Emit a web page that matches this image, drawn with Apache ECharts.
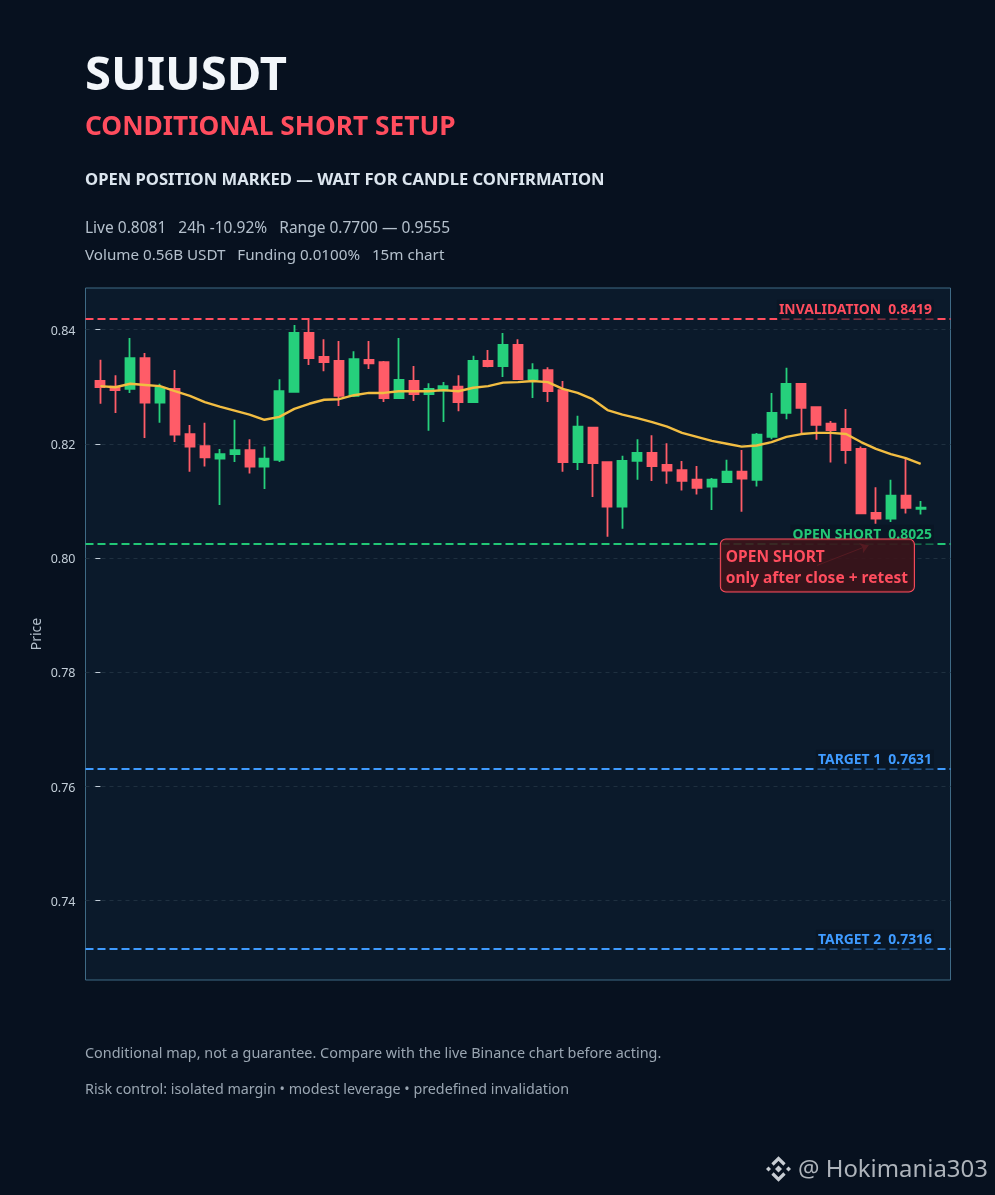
<!DOCTYPE html>
<html><head><meta charset="utf-8">
<style>html,body{margin:0;padding:0;background:#07111f}#c{width:995px;height:1195px}</style>
<script src="https://cdn.jsdelivr.net/npm/echarts@6/dist/echarts.min.js"></script>
</head><body><div id="c"></div>
<script>
const opens  = [.8310,.8300,.8296,.8350,.8272,.8296,.8217,.8196,.8174,.8182,.8189,.8160,.8172,.8291,.8394,.8352,.8345,.8284,.8347,.8343,.8280,.8310,.8287,.8293,.8300,.8273,.8345,.8336,.8373,.8313,.8329,.8294,.8168,.8228,.8168,.8090,.8170,.8184,.8163,.8154,.8137,.8125,.8133,.8151,.8137,.8212,.8254,.8305,.8264,.8235,.8226,.8191,.8079,.8069,.8109,.8086];
const closes = [.8299,.8294,.8350,.8272,.8298,.8216,.8195,.8176,.8182,.8189,.8160,.8174,.8292,.8394,.8350,.8343,.8284,.8348,.8341,.8280,.8312,.8287,.8296,.8301,.8273,.8345,.8336,.8373,.8313,.8329,.8292,.8168,.8230,.8166,.8090,.8170,.8184,.8161,.8153,.8135,.8123,.8137,.8151,.8139,.8216,.8254,.8305,.8263,.8233,.8224,.8189,.8078,.8069,.8109,.8088,.8088];
const lows   = [.8270,.8254,.8289,.8210,.8237,.8203,.8151,.8160,.8093,.8168,.8148,.8121,.8168,.8291,.8338,.8327,.8266,.8282,.8331,.8273,.8280,.8275,.8223,.8238,.8257,.8273,.8334,.8317,.8312,.8280,.8273,.8151,.8154,.8107,.8037,.8051,.8137,.8135,.8130,.8118,.8111,.8084,.8132,.8081,.8125,.8208,.8243,.8217,.8207,.8167,.8165,.8078,.8060,.8063,.8078,.8076];
const highs  = [.8347,.8320,.8385,.8359,.8305,.8329,.8233,.8237,.8191,.8242,.8208,.8195,.8313,.8408,.8417,.8383,.8380,.8362,.8380,.8345,.8385,.8336,.8306,.8308,.8320,.8354,.8364,.8394,.8383,.8341,.8334,.8310,.8249,.8228,.8168,.8179,.8208,.8215,.8201,.8170,.8161,.8140,.8172,.8189,.8219,.8289,.8333,.8305,.8264,.8240,.8261,.8195,.8124,.8137,.8174,.8100];
const ma     = [.8301,.8299,.8305,.8303,.8301,.8292,.8284,.8273,.8265,.8258,.8251,.8242,.8247,.8261,.8270,.8277,.8278,.8285,.8289,.8289,.8292,.8292,.8292,.8294,.8292,.8298,.8301,.8307,.8308,.8310,.8308,.8296,.8289,.8278,.8259,.8251,.8245,.8238,.8230,.8219,.8212,.8205,.8200,.8195,.8197,.8203,.8212,.8217,.8219,.8219,.8217,.8203,.8191,.8182,.8175,.8165];
const yTicks = [0.74,0.76,0.78,0.80,0.82,0.84];
const levelNames  = ['INVALIDATION','OPEN SHORT','TARGET 1','TARGET 2'];
const levelValues = [0.8419,0.8025,0.7631,0.7316];

const RED='#ff5c68', GREEN='#26d07c', BLUE='#3f9bff', SOFTRED='#ff4d5e';
const levelColors=[SOFTRED,'#22c776',BLUE,BLUE];
const FONT='"Noto Sans"';
const xMin=-1, xMax=57, yMin=0.72612, yMax=0.84727;
const candles=opens.map((o,i)=>[i,o,closes[i],lows[i],highs[i]]);
const head=(text,top,size,weight,color)=>({text,left:85,top,padding:0,textStyle:{fontFamily:FONT,fontSize:size,fontWeight:weight,color}});

const chart=echarts.init(document.getElementById('c'),null,{renderer:'canvas'});
chart.setOption({
  backgroundColor:'#07111f',animation:false,
  title:[
    head('SUIUSDT',53,47.2,'bold','#f2f6fa'),
    head('CONDITIONAL SHORT SETUP',115,26.3,'bold',SOFTRED),
    head('OPEN POSITION MARKED — WAIT FOR CANDLE CONFIRMATION',172,16.6,'bold','#dbe5ee'),
    head('Live 0.8081   24h -10.92%   Range 0.7700 — 0.9555',221,15.5,'normal','#b4c0cc'),
    head('Volume 0.56B USDT   Funding 0.0100%   15m chart',248,15.2,'normal','#b4c0cc'),
    head('Conditional map, not a guarantee. Compare with the live Binance chart before acting.',1047,14.4,'normal','#9aa6b2'),
    head('Risk control: isolated margin • modest leverage • predefined invalidation',1083,14.3,'normal','#9aa6b2'),
    {text:'@ Hokimania303',left:798,top:1158,padding:0,textStyle:{fontFamily:FONT,fontSize:23.9,fontWeight:'normal',color:'#aeb4bb'}}
  ],
  grid:{left:85.5,right:44.5,top:288,height:692,show:true,backgroundColor:'#0b1a2b',borderColor:'#3f6a85',borderWidth:1,containLabel:false},
  xAxis:{type:'value',min:xMin,max:xMax,show:false,splitLine:{show:false}},
  yAxis:{type:'value',min:yMin,max:yMax,name:'Price',nameLocation:'middle',nameGap:41,nameMoveOverlap:false,nameTextStyle:{color:'#b4c0cc',fontFamily:FONT,fontSize:14},
    axisLine:{show:false},
    axisTick:{show:true,length:5,customValues:yTicks,lineStyle:{color:'#c3ced8',width:1}},
    axisLabel:{customValues:yTicks,color:'#c3ced8',fontFamily:FONT,fontSize:12.5,margin:10,verticalAlign:'top',padding:[-5,0,0,0],formatter:v=>v.toFixed(2)},
    splitLine:{show:true,lineStyle:{color:'#1f3040',type:[4,4],width:1}}},
  series:[
    {type:'candlestick',data:candles,encode:{x:0,y:[1,2,3,4]},barWidth:9.5,z:3,
      itemStyle:{color:GREEN,color0:RED,borderColor:GREEN,borderColor0:RED,borderWidth:1.8,borderColorDoji:GREEN},
      markLine:{silent:true,symbol:'none',z:4,animation:false,
        data:levelValues.map((v,i)=>[
          {coord:[xMin,v],lineStyle:{color:levelColors[i],type:[8,4],width:2.2},
           label:{show:true,position:'insideEndTop',formatter:levelNames[i]+'  '+v.toFixed(4),color:levelColors[i],fontFamily:FONT,fontSize:13.9,fontWeight:'bold',
             backgroundColor:'rgba(8,21,36,0.7)',padding:[3,2],distance:[16.5,-1]}},
          {coord:[xMax,v]}])
      }},
    {type:'line',data:ma.map((v,i)=>[i,v]),showSymbol:false,symbol:'none',z:5,lineStyle:{color:'#f2bd42',width:2.4},
      markLine:{silent:true,z:6,animation:false,symbol:['none','arrow'],symbolSize:8,label:{show:false},
        lineStyle:{color:'#ff4d5e',width:1,type:'solid'},
        data:[[{coord:[48.05,0.7987]},{coord:[51.5,0.8022]}]]},
      markPoint:{silent:true,z:7,animation:false,symbol:'circle',symbolSize:0,
        data:[{coord:[41.6,0.80324],
          label:{show:true,position:'inside',align:'left',verticalAlign:'top',formatter:'OPEN SHORT\nonly after close + retest',
            color:SOFTRED,fontFamily:FONT,fontSize:15.5,fontWeight:'bold',lineHeight:21,
            backgroundColor:'rgba(60,19,25,0.88)',borderColor:SOFTRED,borderWidth:1,borderRadius:5,padding:[8,6,2,5]}}]}}
  ],
  graphic:[{type:'group',left:766,top:1156,children:[
    {type:'polygon',shape:{points:[[13,9.5],[16.5,13],[13,16.5],[9.5,13]]},style:{fill:'#c8cdd3'}},
    {type:'polygon',shape:{points:[[3,10.5],[5.5,13],[3,15.5],[0.5,13]]},style:{fill:'#c8cdd3'}},
    {type:'polygon',shape:{points:[[23,10.5],[25.5,13],[23,15.5],[20.5,13]]},style:{fill:'#c8cdd3'}},
    {type:'polyline',shape:{points:[[7,8.5],[13,2.5],[19,8.5]]},style:{stroke:'#c8cdd3',fill:null,lineWidth:3.2}},
    {type:'polyline',shape:{points:[[7,17.5],[13,23.5],[19,17.5]]},style:{stroke:'#c8cdd3',fill:null,lineWidth:3.2}}
  ]}]
});
</script></body></html>
